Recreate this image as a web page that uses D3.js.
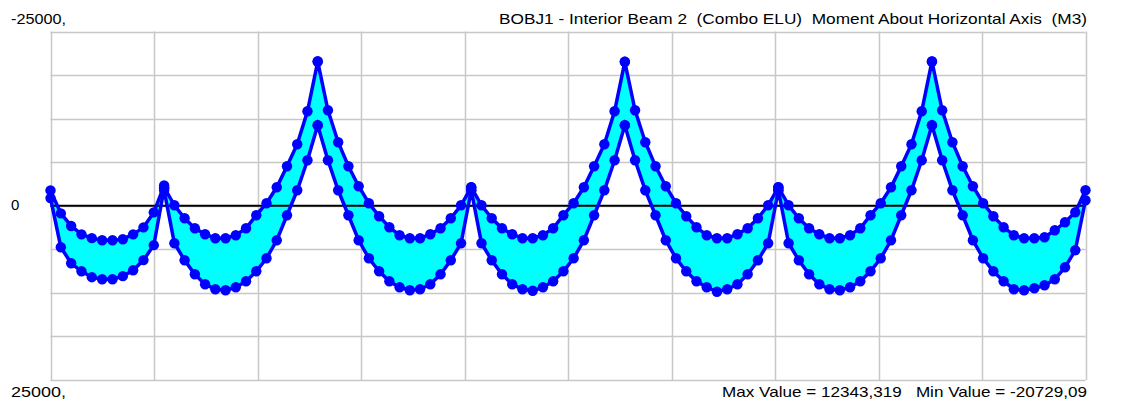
<!DOCTYPE html>
<html lang="en">
<head>
<meta charset="UTF-8">
<title>BOBJ1 - Interior Beam 2 Moment</title>
<script src="https://d3js.org/d3.v7.min.js"></script>
<style>
  body { margin: 0; background: #fff; }
  svg { display: block; }
  text { font-family: "Liberation Sans", Arial, sans-serif; font-size: 15px; fill: #000; white-space: pre; }
  .grid line { stroke: #c8c8c8; stroke-width: 1.5; }
</style>
</head>
<body>
<svg width="1124" height="401"></svg>
<script>
// span lengths (m) and moment envelopes per span (kN.m, positive = sagging, drawn downward)
const spanLengths = [7.4, 10, 10, 10, 10, 10, 10];

const span1Min = [-2200, 1100, 2900, 4100, 4650, 4950, 4950, 4800, 4100, 3100, 950, -2900];
const span1Max = [-1100, 5950, 8250, 9400, 10250, 10550, 10550, 10100, 9250, 7800, 5650, -2500];

const span2Min = [-2650, -70, 1800, 3230, 4090, 4660, 4660, 4230, 3230, 1360, -360, -2650, -5670, -8830, -13560, -20650];
const span2Max = [-2220, 5380, 7820, 9830, 11270, 11980, 12130, 11700, 10830, 9400, 7530, 4950, 1360, -2220, -6530, -11550];

const span3Min = [-20729, -13700, -9110, -5670, -2800, -360, 1500, 3090, 4230, 4660, 4660, 4090, 3230, 1790, -70, -2650];
const span3Max = [-11550, -6530, -2220, 1360, 4950, 7530, 9400, 10830, 11700, 12130, 11980, 11270, 9830, 7820, 5380, -2220];

const span4Min = [-2650, -70, 1800, 3230, 4090, 4660, 4660, 4230, 3230, 1360, -360, -2650, -5670, -8830, -13560, -20650];
const span4Max = [-2220, 5380, 7820, 9830, 11270, 11980, 12200, 11700, 10830, 9400, 7530, 4950, 1360, -2220, -6530, -11550];

const span5Min = [-20650, -13700, -9110, -5670, -2800, -360, 1500, 3090, 4230, 4660, 4660, 4090, 3230, 1790, -70, -2650];
const span5Max = [-11550, -6530, -2220, 1360, 4950, 7530, 9400, 10830, 11700, 12343, 11980, 11270, 9830, 7820, 5380, -2220];

const span6Min = [-2650, -70, 1800, 3230, 4090, 4660, 4660, 4230, 3230, 1360, -360, -2650, -5670, -8830, -13560, -20700];
const span6Max = [-2220, 5380, 7820, 9830, 11270, 11980, 12130, 11700, 10830, 9400, 7530, 4950, 1360, -2220, -6530, -11550];

const span7Min = [-20700, -13700, -9110, -5670, -2800, -360, 1500, 3090, 4230, 4660, 4660, 4520, 3520, 2370, 930, -2220];
const span7Max = [-11550, -6530, -2220, 1360, 4950, 7530, 9400, 10830, 11980, 12130, 11840, 11410, 10550, 8830, 6390, -790];

const yLimits = [-25000, 25000];
const title = "BOBJ1 - Interior Beam 2  (Combo ELU)  Moment About Horizontal Axis  (M3)";
const footer = "Max Value = 12343,319   Min Value = -20729,09";

const spansMin = [span1Min, span2Min, span3Min, span4Min, span5Min, span6Min, span7Min];
const spansMax = [span1Max, span2Max, span3Max, span4Max, span5Max, span6Max, span7Max];

// build stations along the beam
const data = [];
let start = 0;
spanLengths.forEach((L, s) => {
  const mn = spansMin[s], mx = spansMax[s];
  mn.forEach((v, i) => {
    data.push({ x: start + L * i / (mn.length - 1), min: v, max: mx[i] });
  });
  start += L;
});
const totalLength = start;

const plot = { left: 50.5, right: 1085.5, top: 31.5, bottom: 380 };

const svg = d3.select("svg");

const x = d3.scaleLinear().domain([0, totalLength]).range([plot.left, plot.right]);
// negative moments are drawn upward
const y = d3.scaleLinear().domain(yLimits).range([plot.top, plot.bottom]);

// grid
const grid = svg.append("g").attr("class", "grid");
grid.selectAll(".vx")
  .data(d3.range(11).map(i => totalLength * i / 10))
  .enter().append("line")
  .attr("x1", d => Math.round(x(d)) + 0.5).attr("x2", d => Math.round(x(d)) + 0.5)
  .attr("y1", plot.top).attr("y2", plot.bottom);
grid.selectAll(".hy")
  .data(d3.range(9).map(i => yLimits[0] + (yLimits[1] - yLimits[0]) * i / 8))
  .enter().append("line")
  .attr("x1", plot.left).attr("x2", plot.right)
  .attr("y1", d => Math.round(y(d)) + 0.5).attr("y2", d => Math.round(y(d)) + 0.5);

// envelope fill
svg.append("path")
  .datum(data)
  .attr("fill", "#00ffff")
  .attr("d", d3.area().x(d => x(d.x)).y0(d => y(d.min)).y1(d => y(d.max)));

// zero line
svg.append("line")
  .attr("x1", plot.left).attr("x2", plot.right)
  .attr("y1", y(0)).attr("y2", y(0))
  .attr("stroke", "#000").attr("stroke-width", 2);

["min", "max"].forEach(key => {
  svg.append("path")
    .datum(data)
    .attr("fill", "none")
    .attr("stroke", "#0000ff")
    .attr("stroke-width", 3.5)
    .attr("d", d3.line().x(d => x(d.x)).y(d => y(d[key])));
  svg.append("g").selectAll("circle")
    .data(data)
    .enter().append("circle")
    .attr("cx", d => x(d.x))
    .attr("cy", d => y(d[key]))
    .attr("r", 5.2)
    .attr("fill", "#0000ff");
});

// labels
svg.append("text").attr("x", 11).attr("y", 24).attr("textLength", 55).attr("lengthAdjust", "spacingAndGlyphs").text(yLimits[0] + ",");
svg.append("text").attr("x", 11).attr("y", 210).text("0");
svg.append("text").attr("x", 11).attr("y", 397).attr("textLength", 55).attr("lengthAdjust", "spacingAndGlyphs").text(yLimits[1] + ",");
svg.append("text").attr("x", 499).attr("y", 24).attr("textLength", 588).attr("lengthAdjust", "spacingAndGlyphs").text(title);
svg.append("text").attr("x", 722).attr("y", 397).attr("textLength", 365).attr("lengthAdjust", "spacingAndGlyphs").text(footer);
</script>
</body>
</html>
